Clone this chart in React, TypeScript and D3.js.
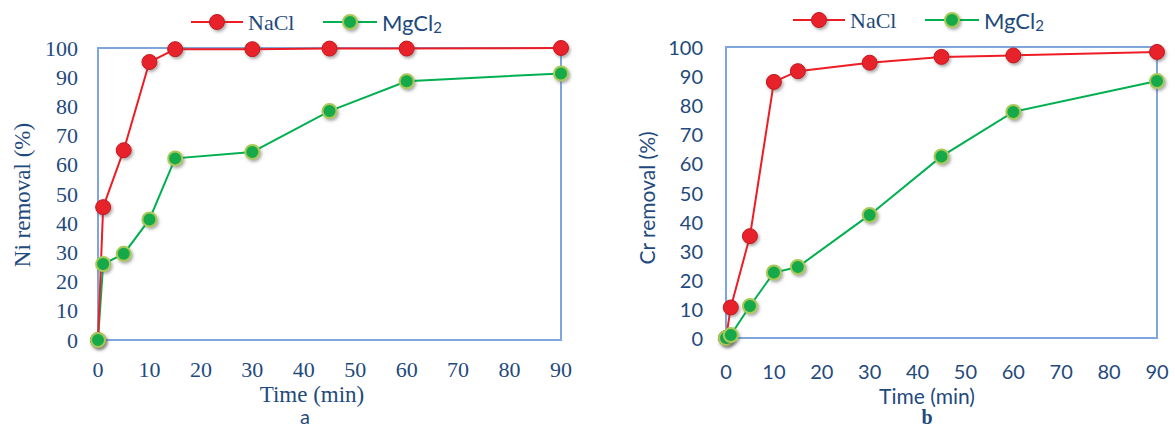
import React from "react";
import * as d3 from "d3";

// Time points (min)
const timesA = [0, 1, 5, 10, 15, 30, 45, 60, 90];
const timesB = [0, 1, 5, 10, 15, 30, 45, 60, 90];

// Ni removal (%) - panel a
const niNaCl = [0, 45.5, 65, 95.2, 99.6, 99.6, 99.8, 99.8, 100];
const niMgCl2 = [0, 26, 29.5, 41.3, 62.2, 64.4, 78.4, 88.6, 91.3];

// Cr removal (%) - panel b
const crNaCl = [0, 10.5, 35, 88, 91.7, 94.6, 96.6, 97.1, 98.3];
const crMgCl2 = [0, 1, 11, 22.5, 24.4, 42.3, 62.4, 77.7, 88.3];

const TEXT = "#1f4a7d";
const FRAME = "#7ea6dc";
const RED = "#ee1c25";
const GREEN = "#00b050";
const SERIF = "'Liberation Serif', 'Times New Roman', serif";
const SANS = "Lato, 'Open Sans', sans-serif";

const Marker = ({ x, y, kind }: { x: number; y: number; kind: "red" | "green" }) =>
  kind === "red" ? (
    <circle cx={x} cy={y} r={7.5} fill="#e8232b" stroke="#c4161c" strokeWidth={1} filter="url(#shadow)" />
  ) : (
    <circle cx={x} cy={y} r={7} fill="#13a94a" stroke="#a8c957" strokeWidth={2} filter="url(#shadow)" />
  );

type PanelProps = {
  times: number[];
  naCl: number[];
  mgCl2: number[];
  xRange: [number, number];
  yRange: [number, number];
  tickFont: string;
  tickSize: number;
  labelSize: number;
  yLabel: string;
  yLabelX: number;
  yLabelY: number;
  xLabelX: number;
  xLabelY: number;
  tickRight: number;
  tickY: number;
  letter: string;
  letterFont: string;
  letterWeight: string;
  letterX: number;
  legendX: number;
  legendY: number;
};

const Panel = (p: PanelProps) => {
  const x = d3.scaleLinear().domain([0, 90]).range(p.xRange);
  const y = d3.scaleLinear().domain([0, 100]).range(p.yRange);
  const line = d3
    .line<[number, number]>()
    .x((d) => x(d[0]))
    .y((d) => y(d[1]));
  const redPts = p.times.map((t, i) => [t, p.naCl[i]] as [number, number]);
  const greenPts = p.times.map((t, i) => [t, p.mgCl2[i]] as [number, number]);
  const [x0, x1] = p.xRange;
  const [yb, yt] = p.yRange;
  const lx = p.legendX;
  const ly = p.legendY;

  return (
    <g>
      {/* frame */}
      <rect x={x0} y={yt} width={x1 - x0} height={yb - yt} fill="none" stroke={FRAME} strokeWidth={2} />

      {/* y ticks */}
      {y.ticks(10).map((t) => (
        <text
          key={"y" + t}
          x={p.tickRight}
          y={y(t)}
          textAnchor="end"
          dominantBaseline="central"
          style={{ fontFamily: p.tickFont }}
          fontSize={p.tickSize}
          fill={TEXT}
        >
          {t}
        </text>
      ))}
      {/* x ticks */}
      {x.ticks(10).map((t) => (
        <text
          key={"x" + t}
          x={x(t)}
          y={p.tickY}
          textAnchor="middle"
          dominantBaseline="central"
          style={{ fontFamily: p.tickFont }}
          fontSize={p.tickSize}
          fill={TEXT}
        >
          {t}
        </text>
      ))}

      <text
        transform={`translate(${p.yLabelX},${p.yLabelY}) rotate(-90)`}
        textAnchor="middle"
        dominantBaseline="central"
        style={{ fontFamily: p.tickFont }}
        fontSize={p.labelSize}
        fill={TEXT}
      >
        {p.yLabel}
      </text>
      <text
        x={p.xLabelX}
        y={p.xLabelY}
        textAnchor="middle"
        dominantBaseline="central"
        style={{ fontFamily: p.tickFont }}
        fontSize={p.labelSize}
        fill={TEXT}
      >
        Time (min)
      </text>
      <text
        x={p.letterX}
        y={424}
        textAnchor="middle"
        style={{ fontFamily: p.letterFont }}
        fontWeight={p.letterWeight}
        fontSize={20}
        fill={TEXT}
      >
        {p.letter}
      </text>

      {/* series */}
      <path d={line(greenPts) || ""} fill="none" stroke={GREEN} strokeWidth={2} />
      <path d={line(redPts) || ""} fill="none" stroke={RED} strokeWidth={2} />
      {redPts.map((d, i) => (
        <Marker key={"r" + i} x={x(d[0])} y={y(d[1])} kind="red" />
      ))}
      {greenPts.map((d, i) => (
        <Marker key={"g" + i} x={x(d[0])} y={y(d[1])} kind="green" />
      ))}

      {/* legend */}
      <line x1={lx} x2={lx + 52} y1={ly} y2={ly} stroke={RED} strokeWidth={2} />
      <Marker x={lx + 26} y={ly} kind="red" />
      <text x={lx + 57} y={ly} dominantBaseline="central" style={{ fontFamily: SERIF }} fontSize={22} fill={TEXT}>
        NaCl
      </text>
      <line x1={lx + 132} x2={lx + 186} y1={ly} y2={ly} stroke={GREEN} strokeWidth={2} />
      <Marker x={lx + 159} y={ly} kind="green" />
      <text x={lx + 191} y={ly} dominantBaseline="central" style={{ fontFamily: SANS }} fontSize={22} fill={TEXT}>
        MgCl<tspan fontSize={15} dy={5}>2</tspan>
      </text>
    </g>
  );
};

export default function App() {
  return (
    <div style={{ position: "absolute", left: 0, top: 0 }}>
      <svg width={1175} height={430} style={{ display: "block", background: "#fff" }}>
        <defs>
          <filter id="shadow" x="-50%" y="-50%" width="220%" height="220%">
            <feDropShadow dx={1.5} dy={2} stdDeviation={1.5} floodColor="#555" floodOpacity={0.5} />
          </filter>
        </defs>
        <Panel
          times={timesA}
          naCl={niNaCl}
          mgCl2={niMgCl2}
          xRange={[98, 561]}
          yRange={[340, 48]}
          tickFont={SERIF}
          tickSize={22}
          labelSize={23}
          yLabel="Ni removal (%)"
          yLabelX={22}
          yLabelY={195}
          xLabelX={312}
          xLabelY={394}
          tickRight={78}
          tickY={369}
          letter="a"
          letterFont={SANS}
          letterWeight="normal"
          letterX={305}
          legendX={191}
          legendY={22}
        />
        <Panel
          times={timesB}
          naCl={crNaCl}
          mgCl2={crMgCl2}
          xRange={[726, 1157]}
          yRange={[338, 47]}
          tickFont={SANS}
          tickSize={20}
          labelSize={21}
          yLabel="Cr removal (%)"
          yLabelX={646}
          yLabelY={198}
          xLabelX={927}
          xLabelY={395}
          tickRight={703}
          tickY={371}
          letter="b"
          letterFont={SERIF}
          letterWeight="bold"
          letterX={927}
          legendX={793}
          legendY={20}
        />
      </svg>
    </div>
  );
}
